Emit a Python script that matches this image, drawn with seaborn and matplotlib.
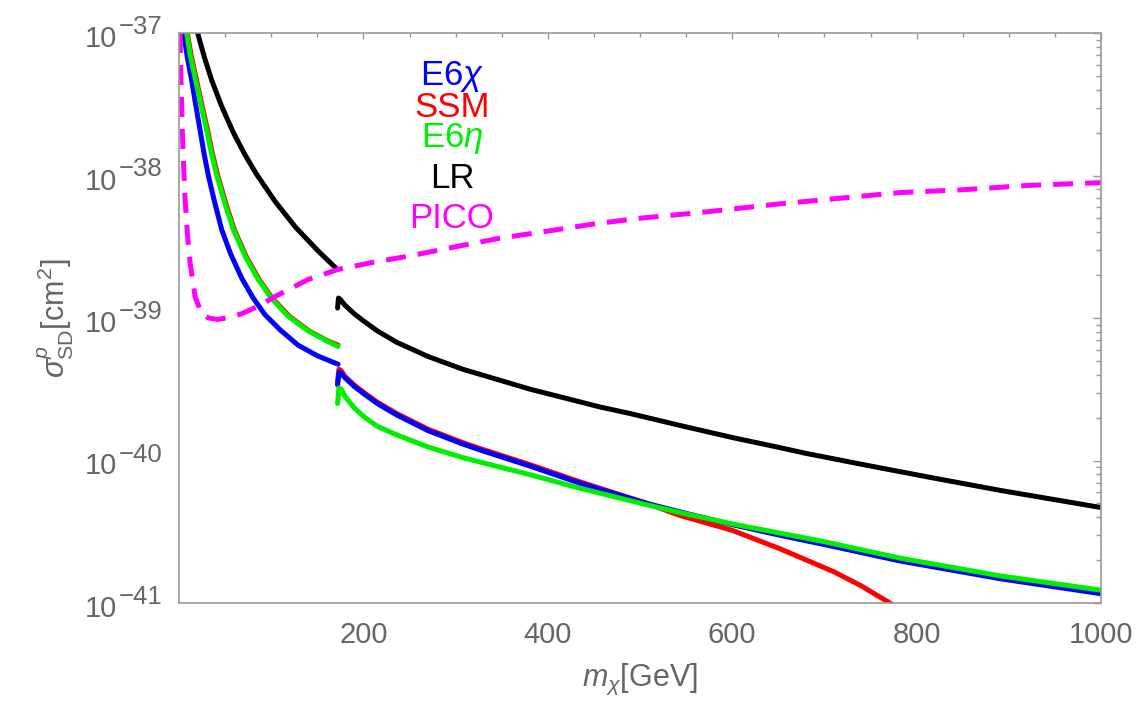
import numpy as np
import matplotlib
matplotlib.use("Agg")
import matplotlib.pyplot as plt
import matplotlib.ticker as mticker
import matplotlib.transforms as mtransforms
import seaborn as sns

# ---- data (x in GeV, y given as log10 of cross section in cm^2) ----
# E6 chi (blue), two branches split near the top threshold
chi_x1 = [4, 5, 9, 13.7, 18, 22.8, 27, 31.8, 38, 46.3, 56, 68, 80, 93, 110, 129,
          150, 169, 172.5]
chi_y1 = [-36.95, -37.0, -37.17, -37.33, -37.5, -37.68, -37.84, -38.0, -38.17,
          -38.38, -38.55, -38.72, -38.855, -38.975, -39.085, -39.19, -39.265,
          -39.315, -39.325]
chi_x2 = [172, 173.5, 176, 180, 190, 200, 215, 236, 270, 308, 326, 381, 435, 507,
          543, 600, 652, 700, 782, 891, 1000]
chi_y2 = [-39.47, -39.38, -39.39, -39.42, -39.48, -39.53, -39.60, -39.68, -39.79,
          -39.885, -39.925, -40.04, -40.16, -40.30, -40.36, -40.45, -40.525, -40.59,
          -40.705, -40.83, -40.935]

# SSM (red)
ssm_x1 = [8, 9, 13, 19, 25, 31, 36, 42, 51, 60, 73, 87, 101, 120, 141, 161, 172.5]
ssm_y1 = [-36.95, -37.0, -37.15, -37.33, -37.51, -37.68, -37.84, -38.0, -38.2,
          -38.38, -38.57, -38.73, -38.86, -38.99, -39.09, -39.16, -39.19]
ssm_x2 = [172, 173.5, 176, 180, 190, 200, 215, 236, 270, 308, 326, 381, 435, 507,
          543, 600, 652, 710, 740, 771, 790]
ssm_y2 = [-39.45, -39.36, -39.37, -39.41, -39.47, -39.52, -39.59, -39.67, -39.78,
          -39.875, -39.915, -40.03, -40.15, -40.30, -40.385, -40.49, -40.62, -40.78,
          -40.88, -41.0, -41.08]

# E6 eta (green)
eta_x1 = [7, 8.3, 12, 18, 24, 30, 35, 41, 50, 59, 72, 86, 100, 118.6, 140, 160,
          172.5]
eta_y1 = [-36.95, -37.0, -37.15, -37.33, -37.51, -37.68, -37.84, -38.0, -38.2,
          -38.38, -38.57, -38.73, -38.86, -38.99, -39.09, -39.16, -39.20]
eta_x2 = [172, 173.5, 176, 180, 190, 200, 215, 236, 270, 308, 326, 381, 435, 507,
          543, 600, 652, 700, 782, 891, 1000]
eta_y2 = [-39.60, -39.49, -39.50, -39.55, -39.63, -39.69, -39.76, -39.82, -39.905,
          -39.98, -40.01, -40.10, -40.195, -40.31, -40.365, -40.445, -40.51, -40.57,
          -40.685, -40.81, -40.91]

# LR (black)
lr_x1 = [17, 20.2, 27.5, 35.4, 46, 59, 71.6, 84, 104, 126, 151, 171]
lr_y1 = [-36.9, -37.0, -37.17, -37.33, -37.51, -37.70, -37.855, -37.99, -38.18,
         -38.36, -38.53, -38.655]
lr_x2 = [172, 173, 175, 180, 190, 200, 215, 236, 270, 308, 381, 457, 489, 544,
         601, 652, 680, 747, 820, 891, 1000]
lr_y2 = [-38.93, -38.86, -38.87, -38.91, -38.97, -39.02, -39.09, -39.17, -39.27,
         -39.36, -39.50, -39.625, -39.67, -39.755, -39.84, -39.91, -39.95, -40.035,
         -40.125, -40.21, -40.33]

# PICO limit (magenta dashed)
pico_x = [1.1, 2.2, 3.6, 5, 6.5, 9, 12, 17.4, 24.6, 32, 42, 55, 68, 85, 104, 122,
          140, 172, 210, 254, 300, 348, 400, 450, 500, 565, 650, 700, 782, 850,
          920, 1000]
pico_y = [-37.0, -37.35, -37.68, -37.93, -38.15, -38.4, -38.61, -38.85, -38.97,
          -39.0, -39.01, -38.995, -38.97, -38.92, -38.85, -38.79, -38.73, -38.66,
          -38.61, -38.56, -38.50, -38.44, -38.39, -38.34, -38.30, -38.26, -38.20,
          -38.17, -38.12, -38.10, -38.07, -38.05]

x_ticks = [200, 400, 600, 800, 1000]
y_decades = [-41, -40, -39, -38, -37]

legend_labels = [r"E6$\chi$", "SSM", r"E6$\eta$", "LR", "PICO"]
legend_colors = ["#0000ff", "#ff0000", "#00ee00", "#000000", "#ff00ff"]

# ---- style ----
sns.set_style("white")
plt.rcParams["font.family"] = ["Liberation Sans", "DejaVu Sans"]
plt.rcParams["mathtext.fontset"] = "custom"
plt.rcParams["mathtext.rm"] = "Liberation Sans"
plt.rcParams["mathtext.it"] = "Liberation Sans:italic"
plt.rcParams["mathtext.bf"] = "Liberation Sans:bold"

gray_text = "#666666"
gray_axis = "#999999"

fig = plt.figure(figsize=(11.4, 7.03), dpi=100)
ax = fig.add_axes([179 / 1140, 100 / 703, 922 / 1140, 570 / 703])

lw = 3.6


def draw(xs, ys, color, **kw):
    sns.lineplot(x=xs, y=10.0 ** np.array(ys), color=color, linewidth=lw,
                 sort=False, estimator=None, ax=ax, **kw)


# draw order: red under blue under green, black on top
draw(ssm_x1, ssm_y1, legend_colors[1])
draw(ssm_x2, ssm_y2, legend_colors[1])
draw(chi_x1, chi_y1, legend_colors[0])
draw(chi_x2, chi_y2, legend_colors[0])
draw(eta_x1, eta_y1, legend_colors[2])
draw(eta_x2, eta_y2, legend_colors[2])
draw(lr_x1, lr_y1, legend_colors[3])
draw(lr_x2, lr_y2, legend_colors[3])
draw(pico_x, pico_y, legend_colors[4], linestyle=(0, (4, 2.4)))

ax.set_yscale("log")
ax.set_xlim(0, 1000)
ax.set_ylim(1e-41, 1e-37)

ax.xaxis.set_major_locator(mticker.FixedLocator(x_ticks))
ax.xaxis.set_minor_locator(mticker.MultipleLocator(50))
ax.yaxis.set_major_locator(mticker.FixedLocator([10.0 ** k for k in y_decades]))
ax.yaxis.set_minor_locator(mticker.FixedLocator(
    [m * 10.0 ** k for k in y_decades[:-1] for m in range(2, 10)]))
ax.yaxis.set_major_formatter(mticker.NullFormatter())
ax.yaxis.set_minor_formatter(mticker.NullFormatter())

ax.tick_params(which="both", direction="in", top=True, right=True,
               color=gray_axis, labelcolor=gray_text, labelsize=21, width=1)
ax.tick_params(axis="y", which="major", length=6)
ax.tick_params(axis="y", which="minor", length=3.5)
ax.tick_params(axis="x", which="major", length=4)
ax.tick_params(axis="x", which="minor", length=3)
ax.tick_params(axis="x", pad=13)

for sp in ax.spines.values():
    sp.set_color(gray_axis)
    sp.set_linewidth(1.2)

# y tick labels drawn by hand so the exponent can be as large as in the original
ytrans = ax.get_yaxis_transform()
base_tr = mtransforms.offset_copy(ytrans, fig=fig, x=0, y=-14, units="dots")
sup_tr = mtransforms.offset_copy(ytrans, fig=fig, x=0, y=-1, units="dots")
for k in y_decades:
    ax.text(-0.0675, 10.0 ** k, "10", transform=base_tr, ha="right", va="baseline",
            fontsize=21, color=gray_text, clip_on=False)
    ax.text(-0.0655, 10.0 ** k, "\u2212" + str(abs(k)), transform=sup_tr,
            ha="left", va="baseline", fontsize=18.5, color=gray_text, clip_on=False)

ax.set_xlabel(r"$m_\chi$[GeV]", fontsize=22, color=gray_text)
ax.set_ylabel(r"$\sigma_{\mathrm{SD}}^{p}$[cm$^2$]", fontsize=22, color=gray_text)
ax.xaxis.set_label_coords(0.5, -0.104)
ax.xaxis.label.set_va("top")
ax.yaxis.set_label_coords(-0.112, 0.5)

# coloured text legend
legend_y = [0.9088, 0.8526, 0.80, 0.728, 0.658]
for lab, col, yy in zip(legend_labels, legend_colors, legend_y):
    ax.text(0.296, yy, lab, color=col, fontsize=25, ha="center", va="baseline",
            transform=ax.transAxes)

fig.savefig("out.png", dpi=100)
